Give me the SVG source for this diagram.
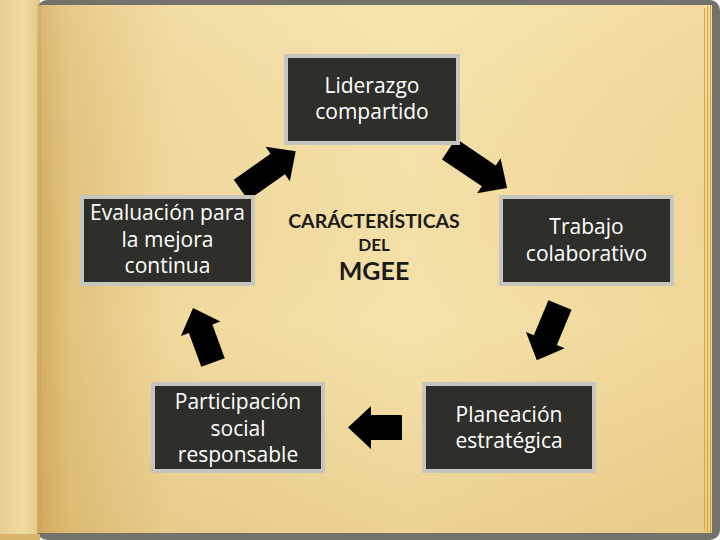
<svg xmlns="http://www.w3.org/2000/svg" width="720" height="540" viewBox="0 0 720 540">
<defs>
<linearGradient id="pageH" x1="0" y1="0" x2="1" y2="0">
<stop offset="0" stop-color="#d3ad62"/>
<stop offset="0.05" stop-color="#e2c37e"/>
<stop offset="0.2" stop-color="#f0d99e"/>
<stop offset="0.55" stop-color="#f5e2aa"/>
<stop offset="1" stop-color="#f0d799"/>
</linearGradient>
<linearGradient id="pageV" x1="0" y1="0" x2="0" y2="1">
<stop offset="0" stop-color="#fff4d0" stop-opacity="0.15"/>
<stop offset="0.6" stop-color="#c89a48" stop-opacity="0"/>
<stop offset="1" stop-color="#c89a48" stop-opacity="0.22"/>
</linearGradient>
<linearGradient id="leftPage" x1="0" y1="0" x2="1" y2="0">
<stop offset="0" stop-color="#e8d092"/>
<stop offset="0.6" stop-color="#eedaa2"/>
<stop offset="1" stop-color="#e4c886"/>
</linearGradient>
<style>
.box{fill:#2e2f2a;stroke:#c6c6be;stroke-width:4}
.t{font-family:"Open Sans","Noto Sans","Liberation Sans",sans-serif;font-size:21px;fill:#ffffff;text-anchor:middle}
.c{font-family:Lato,"Open Sans","Liberation Sans",sans-serif;font-weight:bold;fill:#1a1a1a;text-anchor:middle}
.arr{fill:#000000}
.stripe{stroke:#d9a73e;stroke-width:1;fill:none}
</style>
</defs>
<g id="background">
<rect x="0" y="0" width="40" height="540" fill="url(#leftPage)"/>
<rect x="37" y="0" width="683" height="540" rx="10" fill="#74736b"/>
<rect x="0" y="534" width="40" height="6" fill="#d9b56c"/>
<rect x="37" y="5" width="675" height="528" fill="url(#pageH)"/>
<rect x="37" y="5" width="675" height="528" fill="url(#pageV)"/>
<line x1="40" y1="5" x2="40" y2="533" stroke="#c9a25a" stroke-width="1"/>
<line class="stripe" x1="704.5" y1="8" x2="704.5" y2="530"/>
<line class="stripe" x1="707.5" y1="6" x2="707.5" y2="532"/>
<line class="stripe" x1="710.5" y1="5" x2="710.5" y2="533"/>
</g>
<g id="connectors">
<polygon class="arr" transform="translate(241,190) rotate(-35.3)" points="0,-12.5 45,-12.5 45,-21 67,0 45,21 45,12.5 0,12.5"/>
<polygon class="arr" transform="translate(449,149) rotate(33.9)" points="0,-12.5 48,-12.5 48,-21 70,0 48,21 48,12.5 0,12.5"/>
<polygon class="arr" transform="translate(560,305) rotate(112.7)" points="0,-12.5 38,-12.5 38,-21 60,0 38,21 38,12.5 0,12.5"/>
<polygon class="arr" transform="translate(402,427.5) rotate(180)" points="0,-12.5 31,-12.5 31,-21.5 54,0 31,21.5 31,12.5 0,12.5"/>
<polygon class="arr" transform="translate(213,362.5) rotate(-110.1)" points="0,-12.5 36,-12.5 36,-21 58,0 36,21 36,12.5 0,12.5"/>
</g>
<g id="liderazgo">
<rect class="box" x="286" y="56" width="172" height="87"/>
<text class="t" x="372" y="93">Liderazgo</text>
<text class="t" x="372" y="119">compartido</text>
</g>
<g id="evaluacion">
<rect class="box" x="82" y="197" width="171" height="87"/>
<text class="t" x="167.5" y="220">Evaluación para</text>
<text class="t" x="167.5" y="247">la mejora</text>
<text class="t" x="167.5" y="273">continua</text>
</g>
<g id="trabajo">
<rect class="box" x="501" y="197" width="171" height="87"/>
<text class="t" x="586.5" y="234">Trabajo</text>
<text class="t" x="586.5" y="261">colaborativo</text>
</g>
<g id="participacion">
<rect class="box" x="153" y="384" width="170" height="87"/>
<text class="t" x="238" y="409">Participación</text>
<text class="t" x="238" y="436">social</text>
<text class="t" x="238" y="462">responsable</text>
</g>
<g id="planeacion">
<rect class="box" x="424" y="384" width="170" height="87"/>
<text class="t" x="509" y="422">Planeación</text>
<text class="t" x="509" y="448">estratégica</text>
</g>
<g id="centro">
<text class="c" x="374" y="228" font-size="19.5">CARÁCTERÍSTICAS</text>
<text class="c" x="374" y="251" font-size="17">DEL</text>
<text class="c" x="374" y="280" font-size="25">MGEE</text>
</g>
</svg>
